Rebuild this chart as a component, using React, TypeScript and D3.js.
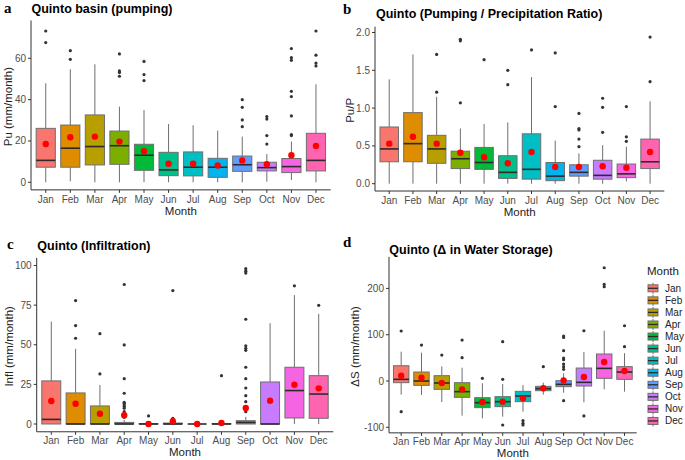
import React from 'react';
import * as d3 from 'd3';

const months = ['Jan', 'Feb', 'Mar', 'Apr', 'May', 'Jun', 'Jul', 'Aug', 'Sep', 'Oct', 'Nov', 'Dec'];
const colors = ['#F8766D', '#DE8C00', '#B79F00', '#7CAE00', '#00BA38', '#00C08B', '#00BFC4', '#00B4F0', '#619CFF', '#C77CFF', '#F564E3', '#FF64B0'];

// Panel a: pumping
const puLo = [0, 0.5, 0, 0, 0, 0, 0, 0, 0, 0.3, 1.1, 0];
const puQ1 = [7.3, 7.3, 8.4, 8.7, 5.8, 3.2, 3.1, 2.4, 5.3, 5.5, 4.7, 5.5];
const puMed = [10.6, 16.5, 17.3, 17.7, 13.1, 6.0, 7.3, 7.3, 8.5, 7.1, 7.6, 10.6];
const puQ3 = [26.1, 27.7, 32.6, 24.8, 18.4, 14.5, 14.7, 11.6, 12.7, 9.7, 11.5, 23.7];
const puHi = [47.9, 54.7, 57.1, 36.6, 35, 28.2, 27.6, 25, 22.1, 13.7, 19.7, 47.4];
const puMean = [18.5, 21.8, 22.1, 19.7, 15, 9.0, 9.0, 8.1, 10.6, 8.7, 13.1, 17.6];
const puOut = [[73.2, 67.6], [63.7, 59.5], [], [62.1, 53.9, 53.1, 51.3], [58.5, 52.1, 49.2], [], [], [], [40, 36.3, 30.2, 26.9], [31.8, 30.6, 22.6, 18.5], [64.7, 60.3, 59, 44, 41.5, 32.1, 23.1, 22.6], [73.2, 61.5, 57.7, 56.3]];
const puTicks = [0, 20, 40, 60];

// Panel b: pumping / precipitation ratio
const ppLo = [0, 0, 0, 0, 0, 0, 0, 0, 0, 0, 0.03, 0];
const ppQ1 = [0.29, 0.29, 0.27, 0.20, 0.19, 0.07, 0.06, 0.04, 0.10, 0.06, 0.08, 0.20];
const ppMed = [0.46, 0.53, 0.46, 0.33, 0.28, 0.15, 0.19, 0.10, 0.15, 0.11, 0.13, 0.29];
const ppQ3 = [0.75, 0.94, 0.64, 0.43, 0.48, 0.37, 0.66, 0.28, 0.25, 0.31, 0.26, 0.59];
const ppHi = [1.38, 1.71, 1.15, 0.73, 0.79, 0.81, 1.41, 0.57, 0.40, 0.51, 0.49, 1.09];
const ppMean = [0.53, 0.62, 0.53, 0.41, 0.35, 0.27, 0.42, 0.22, 0.22, 0.23, 0.21, 0.42];
const ppOut = [[], [], [1.71, 1.21], [1.91, 1.89, 1.07], [1.64], [1.5, 1.31], [1.77], [1.73, 1.02], [0.93, 0.73, 0.71, 0.59, 0.49], [1.13, 1.01, 0.68], [1.02, 0.62, 0.56], [1.94, 1.35]];
const ppTicks = [0, 0.5, 1.0, 1.5, 2.0];

// Panel c: infiltration
const inLo = [0, 0, 0, 0, 0, 0, 0, 0, 0, 0, 0, 0];
const inQ1 = [0, 0, 0, 0, 0, 0, 0, 0, 0, 0, 3.8, 3.6];
const inMed = [2.9, 0, 0, 0, 0, 0, 0, 0, 1.0, 0, 21.1, 18.9];
const inQ3 = [27.2, 19.6, 11.4, 1.0, 0.3, 0.6, 0, 0.3, 2.1, 26.5, 35.8, 30.5];
const inHi = [64.6, 47.4, 24.6, 2.5, 0.6, 1.5, 0, 0.6, 4.5, 63.6, 81.3, 69.5];
const inMean = [14.5, 12.8, 6.5, 5.5, 0, 1.7, 0, 0.6, 10.1, 14.7, 24.8, 22.5];
const inOut = [[], [77.9, 62.1, 54.1], [57, 31.6], [88, 49.9, 28.6, 19.4, 13.7, 13, 12, 11, 10, 7.8, 4.2], [5.1], [84.2, 3.6, 3.0], [], [30.5], [98, 96.4, 95.2, 66.1, 49.3, 47.8, 46.5, 35.8, 28.6, 22.7, 17.9, 14.1, 8.8, 7.8], [], [87.2], [74.9]];
const inTicks = [0, 25, 50, 75, 100];

// Panel d: change in water storage
const dsLo = [-29.5, -30.2, -45.3, -74.8, -80.6, -77, -66.2, -29.5, -25.2, -46, -18, -23];
const dsQ1 = [-3.6, -9.4, -18, -35.3, -57.6, -55.4, -44.6, -20.9, -12.2, -10.8, 5.8, 3.6];
const dsMed = [3.6, 0, -4.3, -23, -46.8, -44.6, -32.4, -16.5, -7.2, -2.9, 27.3, 19.4];
const dsQ3 = [33, 19.4, 11.5, -3.6, -36, -33.8, -22.3, -11.5, 0.7, 28, 58.3, 31];
const dsHi = [63.3, 61.2, 31.7, 28.8, -5, -6.5, -8.6, -3.6, 16.5, 62.6, 108.6, 60];
const dsMean = [11.5, 7.2, -4.3, -18, -45.3, -44.6, -37.4, -15.8, 1.4, 8.6, 41, 21.6];
const dsOut = [[108, -66.2], [77.7], [56.1], [88.5, 50.4], [5.8], [84.9, 3.6, -95], [-85.6, -91.4, -95], [31], [97, 94, 65.5, 49.6, 46, 36.7, 31, 25.2, -42.4], [108.6, -75.5], [244.6, 208.6, 203.6], [119.4, 74.1]];
const dsTicks = [-100, 0, 100, 200];

const SANS = '"Liberation Sans", Arial, Helvetica, sans-serif';
const SERIF = '"Liberation Serif", "Times New Roman", serif';

type Stats = { lo: number[]; q1: number[]; med: number[]; q3: number[]; hi: number[]; mean: number[]; out: number[][] };

type PanelProps = {
  stats: Stats;
  ticks: number[];
  tickFmt: (v: number) => string;
  left: number; right: number; top: number; bottom: number;
  title: string; titleX: number; titleY: number;
  letter: string; letterX: number; letterY: number;
  ylab: string; ylabX: number;
  xTickY: number; xTitleY: number;
  boxW: number;
};

function Panel(p: PanelProps) {
  const s = p.stats;
  const all = [...s.lo, ...s.hi, ...s.out.flat(), ...s.mean];
  const mn = d3.min(all) as number;
  const mx = d3.max(all) as number;
  const ex = (mx - mn) * 0.05;
  const y = d3.scaleLinear().domain([mn - ex, mx + ex]).range([p.bottom, p.top]);
  const x = d3.scalePoint<string>().domain(months).range([p.left, p.right]).padding(0.6);
  const bw = x.step() * p.boxW;
  const boxStroke = '#6e6e6e';
  return (
    <g>
      <text x={p.letterX} y={p.letterY} fontFamily={SERIF} fontWeight="bold" fontSize={15} fill="#000">{p.letter}</text>
      <text x={p.titleX} y={p.titleY} fontFamily={SANS} fontWeight="bold" fontSize={12.5} fill="#000">{p.title}</text>
      {months.map((m, i) => {
        const cx = x(m) as number;
        return (
          <g key={m}>
            <line x1={cx} x2={cx} y1={y(s.q3[i])} y2={y(s.hi[i])} stroke={boxStroke} strokeWidth={1} />
            <line x1={cx} x2={cx} y1={y(s.q1[i])} y2={y(s.lo[i])} stroke={boxStroke} strokeWidth={1} />
            <rect x={cx - bw / 2} y={y(s.q3[i])} width={bw} height={Math.max(0, y(s.q1[i]) - y(s.q3[i]))} fill={colors[i]} stroke={boxStroke} strokeWidth={1} />
            <line x1={cx - bw / 2} x2={cx + bw / 2} y1={y(s.med[i])} y2={y(s.med[i])} stroke="#2b2b2b" strokeWidth={1.6} />
            {s.out[i].map((v, j) => (
              <circle key={j} cx={cx} cy={y(v)} r={1.6} fill="#333" />
            ))}
            <circle cx={cx} cy={y(s.mean[i])} r={3.2} fill="#FF0000" />
          </g>
        );
      })}
      <line x1={p.left} x2={p.left} y1={p.top - 3} y2={p.bottom} stroke="#333" strokeWidth={1} />
      <line x1={p.left} x2={p.right} y1={p.bottom} y2={p.bottom} stroke="#333" strokeWidth={1} />
      {p.ticks.map((t) => (
        <g key={t}>
          <line x1={p.left - 3} x2={p.left} y1={y(t)} y2={y(t)} stroke="#333" strokeWidth={1} />
          <text x={p.left - 5} y={y(t)} dy="0.35em" textAnchor="end" fontFamily={SANS} fontSize={10} fill="#4d4d4d">{p.tickFmt(t)}</text>
        </g>
      ))}
      {months.map((m) => (
        <g key={m}>
          <line x1={x(m) as number} x2={x(m) as number} y1={p.bottom} y2={p.bottom + 3} stroke="#333" strokeWidth={1} />
          <text x={x(m) as number} y={p.xTickY} dy="0.35em" textAnchor="middle" fontFamily={SANS} fontSize={10} fill="#4d4d4d">{m}</text>
        </g>
      ))}
      <text x={(p.left + p.right) / 2} y={p.xTitleY} dy="0.35em" textAnchor="middle" fontFamily={SANS} fontSize={11.5} fill="#222">Month</text>
      <text transform={`translate(${p.ylabX},${(p.top + p.bottom) / 2}) rotate(-90)`} dy="0.35em" textAnchor="middle" fontFamily={SANS} fontSize={11.5} fill="#222">{p.ylab}</text>
    </g>
  );
}

function Legend() {
  const x0 = 648;
  const y0 = 288.3;
  const step = 12.06;
  return (
    <g>
      <text x={647} y={275} fontFamily={SANS} fontSize={11.5} fill="#222">Month</text>
      {months.map((m, i) => {
        const cy = y0 + i * step;
        return (
          <g key={m}>
            <line x1={x0 + 5} x2={x0 + 5} y1={cy - 5.5} y2={cy + 5.5} stroke="#6e6e6e" strokeWidth={1} />
            <rect x={x0} y={cy - 3.5} width={10} height={7} fill={colors[i]} stroke="#6e6e6e" strokeWidth={1} />
            <line x1={x0} x2={x0 + 10} y1={cy} y2={cy} stroke="#2b2b2b" strokeWidth={1.3} />
            <text x={665} y={cy} dy="0.35em" fontFamily={SANS} fontSize={10} fill="#222">{m}</text>
          </g>
        );
      })}
    </g>
  );
}

export default function App() {
  const f0 = (v: number) => String(v);
  const f1 = (v: number) => v.toFixed(1);
  return (
    <svg width={685} height={460} style={{ position: 'absolute', left: 0, top: 0, background: '#fff' }}>
      <rect width={685} height={460} fill="#fff" />
      <Panel
        stats={{ lo: puLo, q1: puQ1, med: puMed, q3: puQ3, hi: puHi, mean: puMean, out: puOut }}
        ticks={puTicks} tickFmt={f0}
        left={31} right={330.7} top={23.45} bottom={189.86}
        title="Quinto basin (pumping)" titleX={31.5} titleY={12.5}
        letter="a" letterX={4} letterY={13}
        ylab="Pu (mm/month)" ylabX={8}
        xTickY={199.3} xTitleY={211} boxW={0.78}
      />
      <Panel
        stats={{ lo: ppLo, q1: ppQ1, med: ppMed, q3: ppQ3, hi: ppHi, mean: ppMean, out: ppOut }}
        ticks={ppTicks} tickFmt={f1}
        left={375} right={664.3} top={29.7} bottom={191.03}
        title="Quinto (Pumping / Precipitation Ratio)" titleX={376} titleY={18}
        letter="b" letterX={343} letterY={14}
        ylab="Pu/P" ylabX={349.5}
        xTickY={200} xTitleY={211.5} boxW={0.78}
      />
      <Panel
        stats={{ lo: inLo, q1: inQ1, med: inMed, q3: inQ3, hi: inHi, mean: inMean, out: inOut }}
        ticks={inTicks} tickFmt={f0}
        left={36.7} right={333.3} top={260.9} bottom={431.77}
        title="Quinto (Infiltration)" titleX={37.3} titleY={250}
        letter="c" letterX={7} letterY={249}
        ylab="Infl (mm/month)" ylabX={8.5}
        xTickY={440.7} xTitleY={451.7} boxW={0.78}
      />
      <Panel
        stats={{ lo: dsLo, q1: dsQ1, med: dsMed, q3: dsQ3, hi: dsHi, mean: dsMean, out: dsOut }}
        ticks={dsTicks} tickFmt={f0}
        left={389} right={636.7} top={259.9} bottom={432.85}
        title="Quinto (Δ in Water Storage)" titleX={389.3} titleY={254}
        letter="d" letterX={343} letterY={247}
        ylab="ΔS (mm/month)" ylabX={355}
        xTickY={441} xTitleY={452.7} boxW={0.76}
      />
      <Legend />
    </svg>
  );
}
